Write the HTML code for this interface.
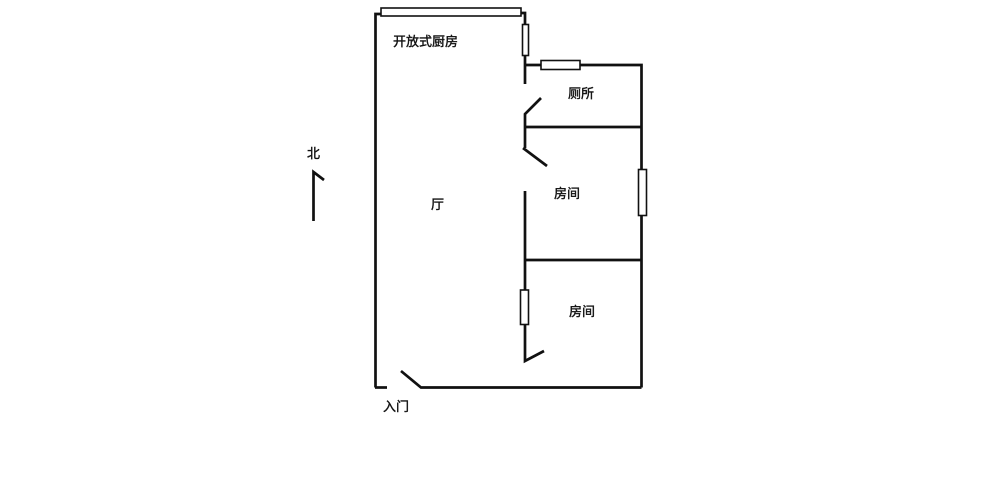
<!DOCTYPE html>
<html><head><meta charset="utf-8"><style>
html,body{margin:0;padding:0;background:#fff;width:1000px;height:478px;overflow:hidden}
svg{display:block;filter:blur(.35px)}
text{font-family:"Liberation Sans","Noto Sans CJK SC",sans-serif;font-size:13px;fill:#111;stroke:#111;stroke-width:.4}
</style></head><body>
<svg width="1000" height="478" viewBox="0 0 1000 478">
<g fill="none" stroke="#111" stroke-width="2.7">
<path d="M375.5 387.5V14H381"/>
<path d="M521 13H525V84"/>
<path d="M525 65H641.5V387.5"/>
<path d="M375 387.5H387"/>
<path d="M401 371L421 387.5H641.5"/>
<path d="M541 98L525 114V148"/>
<path d="M547 166L523 148"/>
<path d="M525 127H641.5"/>
<path d="M525 191V361L544 351"/>
<path d="M525 260H641.5"/>
<path d="M313.5 221V172L324 180"/>
</g>
<g fill="#fff" stroke="#111" stroke-width="1.6">
<rect x="381" y="8" width="140" height="8"/>
<rect x="522.5" y="24.5" width="6" height="31"/>
<rect x="541" y="60.5" width="39" height="9"/>
<rect x="638.5" y="169.5" width="8" height="46"/>
<rect x="520.5" y="290" width="8" height="34.5"/>
</g>
<text x="393" y="46">开放式厨房</text>
<text x="568" y="98">厕所</text>
<text x="554" y="198">房间</text>
<text x="431" y="209">厅</text>
<text x="569" y="316">房间</text>
<text x="383" y="411">入门</text>
<text x="307" y="158">北</text>
</svg>
</body></html>
